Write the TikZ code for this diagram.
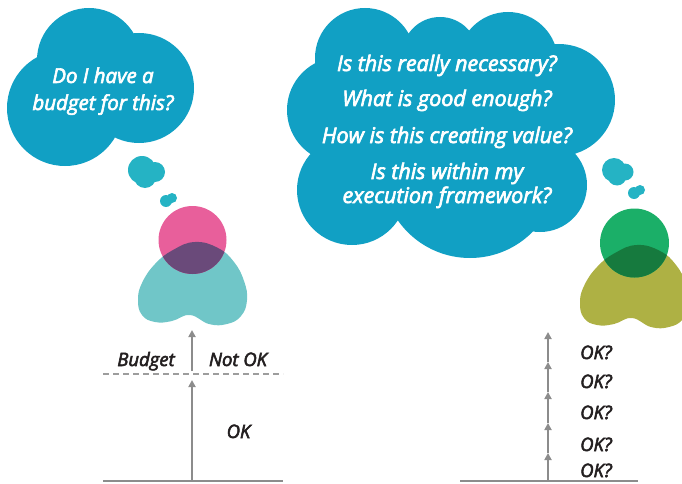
\documentclass[tikz,border=0pt]{standalone}
\usepackage{fontspec}
\setmainfont{Open Sans}[ItalicFeatures={FakeBold=3}]
\usetikzlibrary{arrows.meta}

\definecolor{cloudblue}{RGB}{17,160,196}
\definecolor{bubble}{RGB}{37,179,196}
\definecolor{headpink}{RGB}{232,95,155}
\definecolor{bodyteal}{RGB}{112,198,200}
\definecolor{mixpurple}{RGB}{106,74,122}
\definecolor{headgreen}{RGB}{27,175,104}
\definecolor{bodyolive}{RGB}{174,177,68}
\definecolor{mixgreen}{RGB}{22,122,62}
\definecolor{linegray}{RGB}{140,140,140}
\definecolor{ink}{RGB}{35,31,32}

\begin{document}
\begin{tikzpicture}[x=1pt,y=-1pt,
  thought/.style={font=\itshape\fontsize{21.5}{26}\selectfont, text=white, anchor=base, inner sep=0pt},
  smallthought/.style={thought, font=\itshape\fontsize{20.5}{25}\selectfont},
  axistext/.style={font=\itshape\fontsize{18.5}{22}\selectfont, text=ink, anchor=base, inner sep=0pt},
  flow/.style={draw=linegray, line width=2pt, -{Triangle[length=7pt,width=7pt]}},
  ground/.style={draw=linegray, line width=1.6pt},
  limit/.style={draw=linegray!85, line width=1.3pt, dash pattern=on 6pt off 4pt}
]
\useasboundingbox (0,0) rectangle (682,484);

% ---------- left thought cloud ----------
\fill[cloudblue] (89,60) circle[radius=52] (139,88) circle[radius=55]
  (65,108) circle[radius=58] (95,95) circle[radius=40];
\node[smallthought] (qa) at (103,83) {Do I have a};
\node[smallthought] (qb) at (103,110) {budget for this?};

% small bubbles leading to the left figure
\fill[bubble] (142,170) circle[radius=14] (155,172) circle[radius=10] (145,177) circle[radius=11];
\fill[bubble] (166,201) circle[radius=6] (172,198) circle[radius=5];

% ---------- right thought cloud ----------
\fill[cloudblue] (365,58) circle[radius=50] (340,110) circle[radius=53]
  (440,55) circle[radius=38] (508,62) circle[radius=50]
  (559,100) circle[radius=56] (540,185) circle[radius=47]
  (470,170) circle[radius=88] (352,190) circle[radius=55]
  (450,135) ellipse[x radius=125, y radius=85];
\node[thought] (q1) at (447,71) {Is this really necessary?};
\node[thought] (q2) at (447,106) {What is good enough?};
\node[thought] (q3) at (447,143) {How is this creating value?};
\node[thought] (q4) at (447,179) {Is this within my};
\node[thought] (q5) at (447,203) {execution framework?};

% small bubbles leading to the right figure
\fill[bubble] (614,170) circle[radius=12] (625,172) circle[radius=8.5] (617,176) circle[radius=9.5];
\fill[bubble] (634,193) circle[radius=6] (640,190) circle[radius=5];

% ---------- figures: head + body ----------
\def\bodyshape{plot[smooth cycle, tension=0.75] coordinates {
  (195,242) (218,248) (234,262) (244,281) (247,300) (241,316) (227,324)
  (209,324) (190,315) (172,321) (155,322) (142,315) (138,300) (142,283)
  (155,264) (173,250)}}

% left figure
\fill[bodyteal] \bodyshape;
\fill[headpink] (192.5,240) circle[radius=34];
\begin{scope}
  \clip (192.5,240) circle[radius=34];
  \fill[mixpurple] \bodyshape;
\end{scope}

% right figure
\begin{scope}[shift={(442,3)}]
  \fill[bodyolive] \bodyshape;
  \fill[headgreen] (192.5,240) circle[radius=34.5];
  \begin{scope}
    \clip (192.5,240) circle[radius=34.5];
    \fill[mixgreen] \bodyshape;
  \end{scope}
\end{scope}

% ---------- left axis: one budget step ----------
\coordinate (lg0) at (103,481);
\coordinate (lg1) at (283,481);
\coordinate (la0) at (192,481);
\coordinate (la1) at (192,380);
\coordinate (lb0) at (192,371);
\coordinate (lb1) at (192,330);
\coordinate (ld0) at (103,374);
\coordinate (ld1) at (283,374);
\draw[ground] (lg0) -- (lg1);
\draw[limit] (ld0) -- (ld1);
\draw[flow] (la0) -- (la1);
\draw[flow] (lb0) -- (lb1);
\node[axistext] (budget) at (146,366) {Budget};
\node[axistext] (notok) at (238,366) {Not OK};
\node[axistext] (ok) at (238.5,438) {OK};

% ---------- right axis: many small checks ----------
\coordinate (rg0) at (460,481);
\coordinate (rg1) at (638,481);
\coordinate (r0) at (548,481);
\coordinate (r1) at (548,453);
\coordinate (r2) at (548,423);
\coordinate (r3) at (548,392);
\coordinate (r4) at (548,362);
\coordinate (r5) at (548,332);
\draw[ground] (rg0) -- (rg1);
\draw[flow] (r0) -- (r1);
\draw[flow] (r1) -- (r2);
\draw[flow] (r2) -- (r3);
\draw[flow] (r3) -- (r4);
\draw[flow] (r4) -- (r5);
\node[axistext] (c1) at (596,477) {OK?};
\node[axistext] (c2) at (596,451) {OK?};
\node[axistext] (c3) at (596,419) {OK?};
\node[axistext] (c4) at (596,388) {OK?};
\node[axistext] (c5) at (596,359) {OK?};
\end{tikzpicture}
\end{document}
